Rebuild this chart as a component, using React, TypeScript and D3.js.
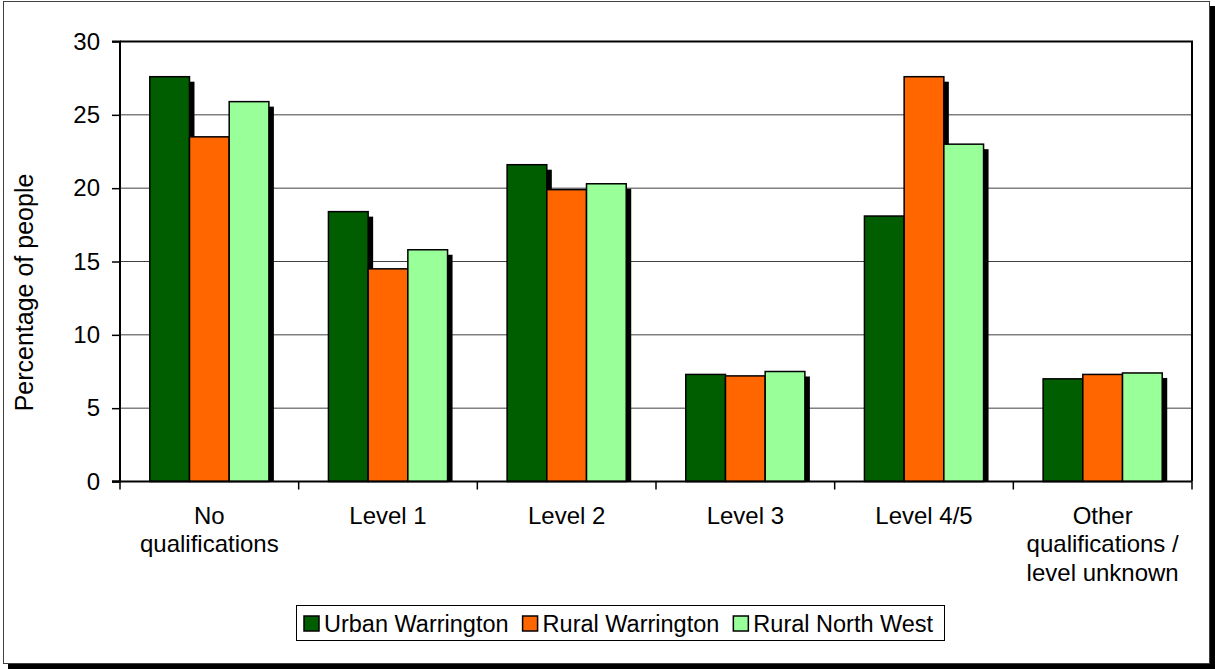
import React, { useEffect, useRef } from "react";
import * as d3 from "d3";

const categories: string[][] = [
  ["No", "qualifications"],
  ["Level 1"],
  ["Level 2"],
  ["Level 3"],
  ["Level 4/5"],
  ["Other", "qualifications /", "level unknown"],
];
const seriesNames = ["Urban Warrington", "Rural Warrington", "Rural North West"];
const seriesColors = ["#005E00", "#FF6600", "#99FF99"];
const urbanWarrington = [27.6, 18.4, 21.6, 7.3, 18.1, 7.0];
const ruralWarrington = [23.5, 14.5, 19.9, 7.2, 27.6, 7.3];
const ruralNorthWest = [25.9, 15.8, 20.3, 7.5, 23.0, 7.4];
const yTicks = [0, 5, 10, 15, 20, 25, 30];
const yTitle = "Percentage of people";

const W = 1215;
const H = 670;
const FONT = "'Liberation Sans', Arial, Helvetica, sans-serif";

export default function App() {
  const ref = useRef<SVGSVGElement>(null);

  useEffect(() => {
    const svg = d3.select(ref.current);
    svg.selectAll("*").remove();

    const plot = { left: 120, right: 1192, top: 41.5, bottom: 481.5 };
    const series = [urbanWarrington, ruralWarrington, ruralNorthWest];
    const catKeys = categories.map((_, i) => String(i));

    // outer frame with shadow
    svg.append("rect").attr("x", 8).attr("y", 6).attr("width", 1207).attr("height", 663).attr("fill", "#000");
    svg.append("rect").attr("x", 3.5).attr("y", 1.5).attr("width", 1206).attr("height", 662)
      .attr("fill", "#fff").attr("stroke", "#404040").attr("stroke-width", 1);

    const x0 = d3.scaleBand().domain(catKeys).range([plot.left, plot.right]).paddingInner(0).paddingOuter(0);
    const x1 = d3.scaleBand().domain(seriesNames).range([0, x0.bandwidth()]).paddingInner(0).paddingOuter(0.75);
    const y = d3.scaleLinear().domain([0, 30]).range([plot.bottom, plot.top]);

    // gridlines
    svg.append("g").selectAll("line").data(yTicks.filter(t => t > 0 && t < 30)).join("line")
      .attr("x1", plot.left).attr("x2", plot.right)
      .attr("y1", d => y(d)).attr("y2", d => y(d))
      .attr("stroke", "#404040").attr("stroke-width", 1);

    // bars with shadows
    const gBars = svg.append("g");
    catKeys.forEach((ck, ci) => {
      seriesNames.forEach((sn, si) => {
        const v = series[si][ci];
        const bx = (x0(ck) as number) + (x1(sn) as number);
        const bw = x1.bandwidth();
        const by = y(v);
        gBars.append("rect").attr("x", bx + 5).attr("y", by + 5)
          .attr("width", bw).attr("height", Math.max(0, y(0) - by - 5)).attr("fill", "#000");
        gBars.append("rect").attr("x", bx).attr("y", by)
          .attr("width", bw).attr("height", y(0) - by)
          .attr("fill", seriesColors[si]).attr("stroke", "#000").attr("stroke-width", 1.5);
      });
    });

    // plot border top/right
    svg.append("path")
      .attr("d", `M${plot.left},${plot.top}H${plot.right}V${plot.bottom}`)
      .attr("fill", "none").attr("stroke", "#000").attr("stroke-width", 2);

    // y axis
    const yAxis = d3.axisLeft(y).tickValues(yTicks).tickSize(8).tickPadding(12);
    const gy = svg.append("g").attr("transform", `translate(${plot.left},0)`).call(yAxis);
    gy.select(".domain").attr("stroke", "#000").attr("stroke-width", 2).attr("d", `M-8,${plot.top}H0V${plot.bottom}H-8`);
    gy.selectAll(".tick line").attr("stroke", "#000").attr("stroke-width", 1.5);
    gy.selectAll(".tick text").attr("font-family", FONT).attr("font-size", 24).attr("fill", "#000");

    // x axis
    const gx = svg.append("g").attr("transform", `translate(0,${plot.bottom})`);
    gx.append("line").attr("x1", plot.left - 8).attr("x2", plot.right).attr("y1", 0).attr("y2", 0)
      .attr("stroke", "#000").attr("stroke-width", 2);
    const bounds = catKeys.map(k => x0(k) as number).concat([plot.right]);
    gx.selectAll("line.tk").data(bounds).join("line").attr("class", "tk")
      .attr("x1", d => d).attr("x2", d => d).attr("y1", 0).attr("y2", 8)
      .attr("stroke", "#000").attr("stroke-width", 1.5);
    catKeys.forEach((ck, ci) => {
      const cx = (x0(ck) as number) + x0.bandwidth() / 2;
      const t = gx.append("text").attr("x", cx).attr("y", 42)
        .attr("text-anchor", "middle").attr("font-family", FONT).attr("font-size", 24).attr("fill", "#000");
      categories[ci].forEach((line, li) => {
        t.append("tspan").attr("x", cx).attr("dy", li === 0 ? 0 : 28.5).text(line);
      });
    });

    // y title
    svg.append("text").attr("transform", `translate(33,292.5) rotate(-90)`)
      .attr("text-anchor", "middle").attr("font-family", FONT).attr("font-size", 25).attr("fill", "#000")
      .text(yTitle);

    // legend
    const lg = svg.append("g");
    const box = lg.append("rect").attr("x", 296.5).attr("y", 605.5).attr("width", 648).attr("height", 35)
      .attr("fill", "#fff").attr("stroke", "#000").attr("stroke-width", 1);
    let cx = 304;
    seriesNames.forEach((sn, si) => {
      lg.append("rect").attr("x", cx).attr("y", 616).attr("width", 15).attr("height", 15)
        .attr("fill", seriesColors[si]).attr("stroke", "#000").attr("stroke-width", 1.5);
      const t = lg.append("text").attr("x", cx + 20).attr("y", 632)
        .attr("font-family", FONT).attr("font-size", 23.5).attr("fill", "#000").text(sn);
      const tw = (t.node() as SVGTextElement).getComputedTextLength();
      cx = cx + 20 + tw + 14;
    });
    box.raise();
    box.lower();
    lg.select("rect").lower();
  }, []);

  return (
    <svg ref={ref} width={W} height={H} style={{ position: "absolute", left: 0, top: 0, display: "block" }} />
  );
}
